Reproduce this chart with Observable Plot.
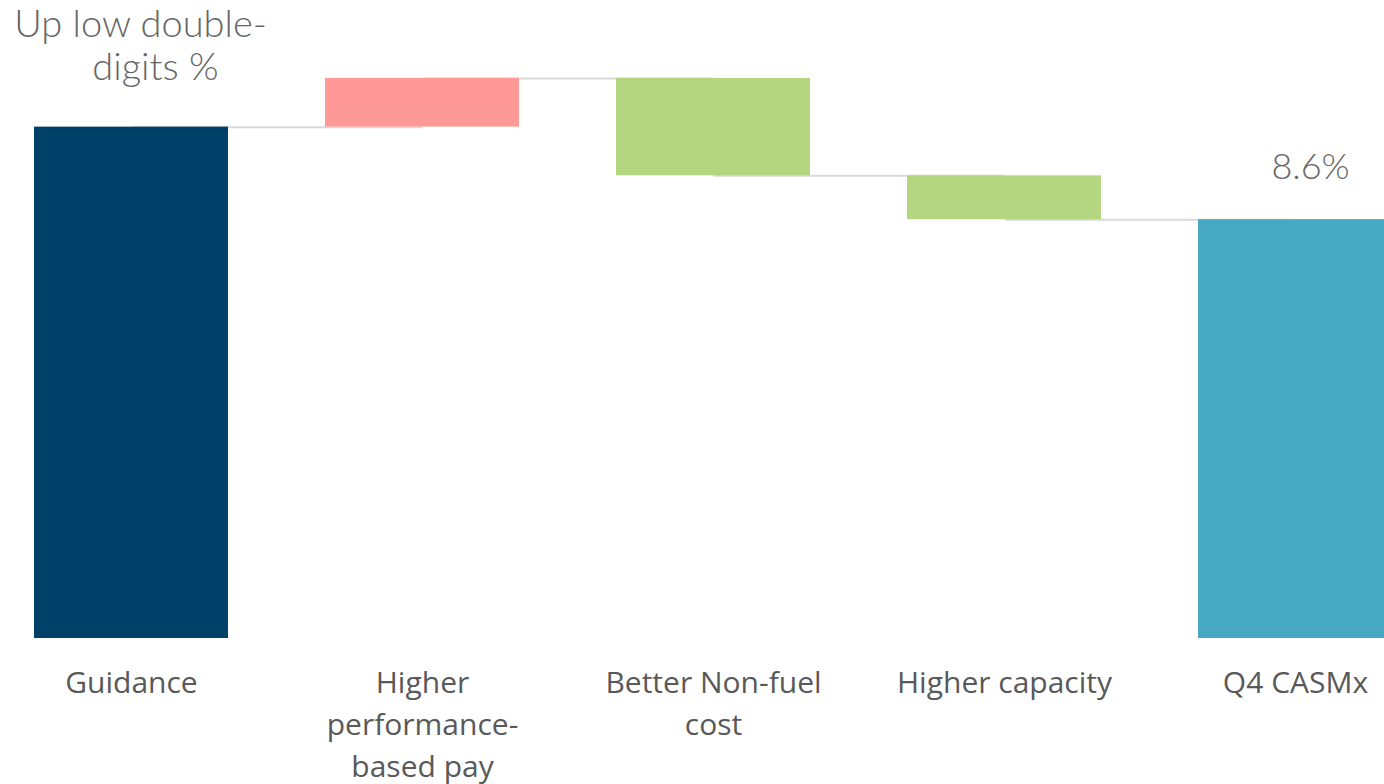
<!DOCTYPE html>
<html>
<head>
<meta charset="utf-8">
<script src="https://cdn.jsdelivr.net/npm/d3@7"></script>
<script src="https://cdn.jsdelivr.net/npm/@observablehq/plot@0.6"></script>
<style>
  html, body { margin: 0; padding: 0; background: #ffffff; }
  #chart svg { display: block; }
</style>
</head>
<body>
<div id="chart"></div>
<script>
// Q4 CASMx walk: guidance, adjustments, result (percentage points)
const categories = ["Guidance", "Higher\nperformance-\nbased pay", "Better Non-fuel\ncost", "Higher capacity", "Q4 CASMx"];
const values = [10.5, 1.0, -2.0, -0.9, 8.6];
const kinds = ["total", "delta", "delta", "delta", "total"];
const colors = ["#00416a", "#ff9997", "#b4d680", "#b4d680", "#47a9c4"];
const guidanceLabel = ["Up low double-", "digits %"];
const resultLabel = "8.6%";

// running start/end for each bar of the waterfall
let level = 0;
const bars = categories.map((cat, i) => {
  let start, end;
  if (kinds[i] === "total") { start = 0; end = values[i]; }
  else { start = level; end = level + values[i]; }
  level = end;
  return { cat, start, end, fill: colors[i] };
});

// connectors between consecutive bars at the running level
const links = bars.slice(0, -1).map((b, i) => ({ from: b.cat, to: bars[i + 1].cat, y: b.end }));

const labelFont = "'Open Sans', 'Noto Sans', sans-serif";
const lightFont = "Lato, 'Open Sans', sans-serif";

const chart = Plot.plot({
  width: 1384,
  height: 784,
  marginTop: 0,
  marginBottom: 146,
  marginLeft: 0,
  marginRight: 0,
  x: { domain: categories, range: [33, 1393], paddingInner: 0.334, paddingOuter: 0 },
  y: { domain: [0, 13.1], axis: null },
  color: { type: "identity" },
  marks: [
    Plot.link(links, { x1: "from", x2: "to", y1: "y", y2: "y", stroke: "#d9d9d9", strokeWidth: 2 }),
    Plot.barY(bars, { x: "cat", y1: "start", y2: "end", fill: "fill" }),
    Plot.axisX({
      tickSize: 0,
      tickPadding: 25,
      fontSize: 30,
      lineHeight: 1.4,
      fill: "#595959",
      fontFamily: labelFont,
      label: null
    }),
    Plot.text([guidanceLabel[0]], {
      x: () => categories[0], y: () => values[0], text: d => d,
      lineAnchor: "bottom", dx: 9, dy: -90,
      fontSize: 38, fontWeight: 300, fill: "#666666", fontFamily: lightFont
    }),
    Plot.text([guidanceLabel[1]], {
      x: () => categories[0], y: () => values[0], text: d => d,
      lineAnchor: "bottom", dx: 24, dy: -47,
      fontSize: 38, fontWeight: 300, fill: "#666666", fontFamily: lightFont
    }),
    Plot.text([resultLabel], {
      x: () => categories[4], y: () => values[4], text: d => d,
      lineAnchor: "bottom", dx: 15, dy: -41,
      fontSize: 36, fontWeight: 300, fill: "#666666", fontFamily: lightFont
    })
  ]
});

document.getElementById("chart").appendChild(chart);
</script>
</body>
</html>
